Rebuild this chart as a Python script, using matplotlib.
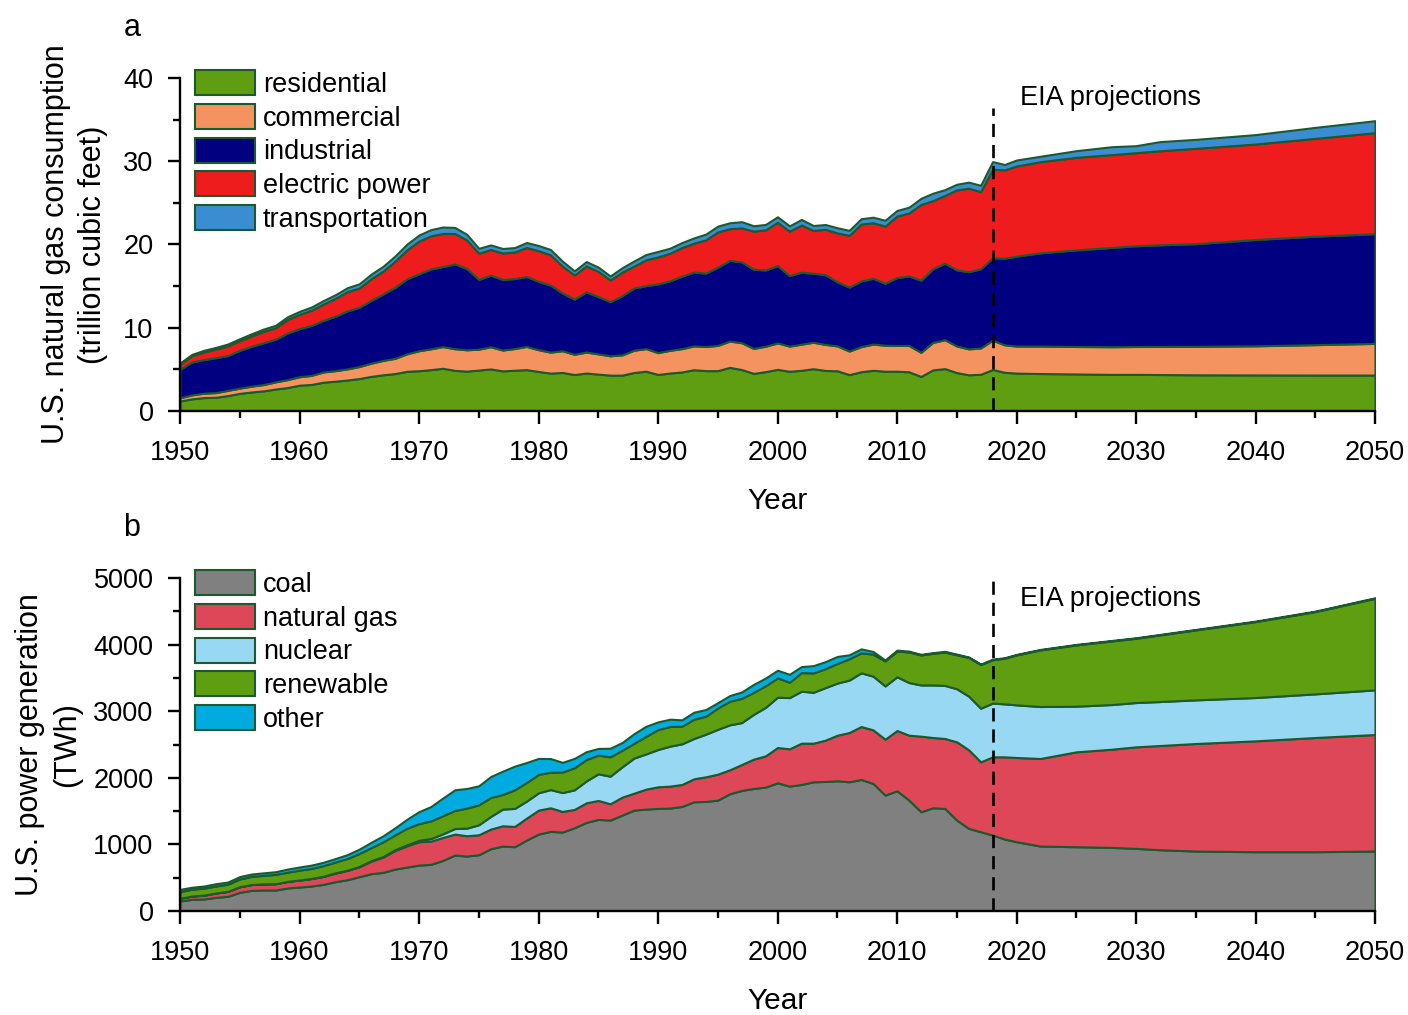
import matplotlib
matplotlib.use("Agg")
import matplotlib.pyplot as plt
from matplotlib.ticker import MultipleLocator

plt.rcParams['font.family'] = ['Liberation Sans', 'DejaVu Sans']

# ---------------- data ----------------
hist_years = list(range(1950, 2019))
proj_years = [2019, 2020, 2022, 2025, 2028, 2030, 2032, 2035, 2040, 2045, 2050]
years = hist_years + proj_years

# (a) natural gas consumption by sector, trillion cubic feet
residential = [
    1.20, 1.46, 1.61, 1.65, 1.85, 2.12, 2.29, 2.42, 2.64, 2.82,
    3.10, 3.19, 3.46, 3.58, 3.72, 3.90, 4.16, 4.35, 4.50, 4.77,
    4.84, 4.97, 5.13, 4.88, 4.79, 4.92, 5.05, 4.82, 4.90, 4.97,
    4.75, 4.55, 4.63, 4.38, 4.56, 4.43, 4.31, 4.31, 4.63, 4.78,
    4.39, 4.56, 4.69, 4.96, 4.85, 4.85, 5.24, 4.98, 4.52, 4.73,
    5.00, 4.77, 4.89, 5.08, 4.87, 4.83, 4.37, 4.72, 4.89, 4.78,
    4.78, 4.71, 4.15, 4.94, 5.09, 4.61, 4.35, 4.41, 4.99,
    4.65, 4.55, 4.50, 4.45, 4.40, 4.40, 4.38, 4.35, 4.33, 4.32, 4.32]
commercial = [
    0.39, 0.48, 0.53, 0.56, 0.63, 0.63, 0.70, 0.76, 0.86, 0.95,
    1.02, 1.09, 1.23, 1.27, 1.34, 1.44, 1.59, 1.73, 1.83, 2.10,
    2.40, 2.50, 2.61, 2.60, 2.56, 2.51, 2.67, 2.50, 2.60, 2.79,
    2.61, 2.52, 2.61, 2.43, 2.52, 2.43, 2.32, 2.43, 2.67, 2.72,
    2.62, 2.73, 2.80, 2.86, 2.90, 3.03, 3.16, 3.22, 3.00, 3.05,
    3.18, 3.02, 3.14, 3.18, 3.13, 2.99, 2.83, 3.01, 3.15, 3.12,
    3.10, 3.16, 2.90, 3.30, 3.47, 3.20, 3.11, 3.16, 3.51,
    3.30, 3.25, 3.30, 3.30, 3.32, 3.35, 3.38, 3.42, 3.50, 3.65, 3.80]
industrial = [
    3.42, 3.95, 4.04, 4.19, 4.18, 4.54, 4.79, 5.02, 5.12, 5.60,
    5.77, 6.00, 6.20, 6.54, 6.96, 7.12, 7.54, 7.98, 8.53, 9.02,
    9.25, 9.59, 9.61, 10.18, 9.76, 8.37, 8.60, 8.47, 8.41, 8.39,
    8.21, 8.05, 6.93, 6.62, 7.23, 6.88, 6.50, 7.11, 7.48, 7.56,
    8.25, 8.35, 8.70, 8.87, 8.81, 9.39, 9.69, 9.72, 9.50, 9.16,
    9.28, 8.47, 8.64, 8.29, 8.37, 7.70, 7.68, 7.89, 7.90, 7.44,
    8.15, 8.35, 8.65, 8.84, 9.18, 9.14, 9.27, 9.51, 9.91,
    10.40, 10.80, 11.20, 11.60, 11.93, 12.10, 12.20, 12.33, 12.77, 13.03, 13.18]
electric_power = [
    0.63, 0.76, 0.92, 1.03, 1.17, 1.15, 1.24, 1.37, 1.38, 1.63,
    1.73, 1.83, 1.97, 2.14, 2.32, 2.32, 2.61, 2.75, 3.15, 3.49,
    3.93, 3.99, 3.98, 3.66, 3.44, 3.16, 3.08, 3.19, 3.19, 3.49,
    3.68, 3.64, 3.23, 2.91, 3.11, 3.04, 2.60, 2.84, 2.64, 3.11,
    3.25, 3.32, 3.45, 3.47, 4.00, 4.24, 3.81, 4.07, 4.59, 4.82,
    5.21, 5.34, 5.67, 5.14, 5.46, 5.87, 6.22, 6.84, 6.67, 6.87,
    7.39, 7.57, 9.11, 8.19, 8.15, 9.61, 10.03, 9.27, 10.63,
    10.61, 10.83, 10.95, 11.12, 11.15, 11.18, 11.30, 11.45, 11.47, 11.75, 12.13]
transportation = [
    0.13, 0.16, 0.19, 0.21, 0.22, 0.25, 0.27, 0.28, 0.30, 0.32,
    0.35, 0.38, 0.41, 0.44, 0.47, 0.50, 0.55, 0.58, 0.62, 0.68,
    0.72, 0.74, 0.77, 0.73, 0.67, 0.58, 0.55, 0.54, 0.53, 0.60,
    0.63, 0.64, 0.60, 0.49, 0.53, 0.50, 0.49, 0.52, 0.61, 0.63,
    0.66, 0.60, 0.59, 0.63, 0.69, 0.70, 0.71, 0.75, 0.64, 0.65,
    0.66, 0.64, 0.67, 0.59, 0.57, 0.62, 0.60, 0.64, 0.67, 0.70,
    0.67, 0.69, 0.73, 0.89, 0.70, 0.68, 0.73, 0.76, 0.92,
    0.65, 0.72, 0.65, 0.80, 0.95, 0.84, 1.10, 1.08, 1.13, 1.32, 1.44]
gas_labels = ['residential', 'commercial', 'industrial', 'electric power', 'transportation']

# (b) power generation by source, TWh
coal = [
    150, 175, 180, 205, 220, 280, 310, 315, 315, 345,
    360, 375, 400, 440, 470, 515, 560, 580, 630, 660,
    690, 700, 760, 840, 825, 845, 935, 975, 965, 1065,
    1155, 1195, 1185, 1250, 1330, 1375, 1365, 1440, 1515, 1530,
    1540, 1545, 1570, 1640, 1645, 1665, 1760, 1810, 1840, 1860,
    1925, 1875, 1900, 1940, 1945, 1955, 1940, 1975, 1915, 1740,
    1805, 1665, 1490, 1550, 1540, 1365, 1240, 1190, 1140,
    1080, 1040, 975, 965, 955, 940, 920, 900, 890, 890, 900]
natural_gas = [
    40, 50, 58, 65, 75, 85, 88, 92, 95, 100,
    105, 112, 120, 130, 140, 150, 190, 230, 280, 320,
    350, 350, 345, 315, 305, 300, 295, 305, 305, 330,
    360, 355, 310, 275, 295, 285, 245, 270, 255, 300,
    325, 330, 330, 345, 370, 390, 360, 390, 440, 470,
    530, 560, 620, 580, 620, 685, 740, 795, 805, 840,
    905, 975, 1135, 1055, 1050, 1175, 1180, 1050, 1175,
    1235, 1265, 1315, 1425, 1475, 1525, 1565, 1615, 1665, 1715, 1750]
nuclear = [
    0, 0, 0, 0, 0, 0, 0, 0, 0, 0,
    1, 2, 2, 3, 3, 4, 6, 8, 12, 14,
    22, 38, 54, 83, 114, 150, 190, 250, 270, 255,
    260, 273, 283, 294, 328, 400, 414, 455, 527, 529,
    560, 600, 610, 605, 640, 673, 675, 629, 673, 728,
    755, 769, 780, 764, 789, 782, 787, 806, 806, 799,
    807, 790, 769, 789, 797, 797, 806, 805, 807,
    795, 790, 780, 685, 670, 665, 660, 655, 650, 655, 670]
renewable = [
    100, 102, 105, 105, 107, 115, 122, 128, 140, 138,
    147, 150, 160, 163, 175, 195, 196, 222, 223, 250,
    250, 266, 273, 272, 301, 300, 284, 220, 280, 280,
    276, 261, 309, 332, 321, 281, 290, 250, 222, 265,
    300, 295, 265, 290, 270, 320, 355, 365, 330, 325,
    290, 230, 280, 290, 285, 295, 320, 300, 330, 375,
    385, 460, 450, 475, 500, 510, 580, 655, 650,
    685, 750, 850, 920, 955, 965, 1000, 1050, 1140, 1235, 1375]
other = [
    35, 30, 32, 35, 33, 37, 36, 38, 40, 46,
    48, 50, 50, 52, 58, 65, 80, 90, 105, 135,
    180, 215, 265, 310, 295, 285, 315, 350, 355, 300,
    240, 205, 145, 140, 118, 100, 130, 115, 145, 150,
    115, 110, 95, 105, 100, 80, 85, 95, 120, 115,
    115, 120, 90, 110, 105, 105, 60, 60, 40, 15,
    15, 12, 10, 10, 12, 10, 8, 8, 10,
    8, 8, 8, 8, 8, 8, 8, 8, 8, 8, 8]
power_labels = ['coal', 'natural gas', 'nuclear', 'renewable', 'other']

projection_start = 2018

# ---------------- style ----------------
EDGE = '#1b5a2e'
gas_colors = ['#5e9e10', '#f4935f', '#000080', '#ee1c1c', '#3a8dd0']
power_colors = ['#808080', '#dd4758', '#99d8f3', '#5e9e10', '#00acdf']

W, H = 1408, 1015
fig = plt.figure(figsize=(W / 100, H / 100), dpi=100)

def px_axes(left, top, right, bottom):
    return fig.add_axes([left / W, 1 - bottom / H, (right - left) / W, (bottom - top) / H])

ax_a = px_axes(180, 78, 1375, 411)
ax_b = px_axes(180, 578, 1375, 911)


def style_axes(ax, ymax, ymajor, yminor):
    ax.set_xlim(1950, 2050)
    ax.set_ylim(0, ymax)
    ax.xaxis.set_major_locator(MultipleLocator(10))
    ax.xaxis.set_minor_locator(MultipleLocator(5))
    ax.yaxis.set_major_locator(MultipleLocator(ymajor))
    ax.yaxis.set_minor_locator(MultipleLocator(yminor))
    for side in ('top', 'right'):
        ax.spines[side].set_visible(False)
    for side in ('left', 'bottom'):
        ax.spines[side].set_linewidth(1.7)
    ax.tick_params(which='major', direction='out', length=9, width=1.7,
                   labelsize=19.5)
    ax.tick_params(which='minor', direction='out', length=5, width=1.7)
    ax.tick_params(axis='x', which='major', pad=12)
    ax.tick_params(axis='y', which='major', pad=10)
    ax.set_xlabel('Year', fontsize=21.5)
    ax.xaxis.set_label_coords(0.5, -0.228)


def draw_stack(ax, series, colors, labels):
    polys = ax.stackplot(years, *series, colors=colors, edgecolor=EDGE,
                         linewidth=1.5, zorder=2)
    ax.legend(polys, labels, loc='upper left', bbox_to_anchor=(0.0126, 1.024),
              frameon=False, fontsize=19.5, handlelength=2.2, handleheight=1.05,
              labelspacing=0.22, handletextpad=0.3, borderpad=0, borderaxespad=0)


# panel a
draw_stack(ax_a, [residential, commercial, industrial, electric_power, transportation],
           gas_colors, gas_labels)
style_axes(ax_a, 40, 10, 5)
ax_a.set_ylabel('U.S. natural gas consumption\n(trillion cubic feet)', fontsize=22,
                linespacing=1.3)
ax_a.yaxis.set_label_coords(-0.06, 0.5)
ax_a.axvline(projection_start, ymin=0, ymax=0.91, color='black', lw=1.9,
             dashes=(5, 3), zorder=3)
ax_a.text(2020.3, 37.6, 'EIA projections', fontsize=19.5, va='center', ha='left')

# panel b
draw_stack(ax_b, [coal, natural_gas, nuclear, renewable, other],
           power_colors, power_labels)
style_axes(ax_b, 5000, 1000, 500)
ax_b.set_ylabel('U.S. power generation\n(TWh)', fontsize=22, linespacing=1.3)
ax_b.yaxis.set_label_coords(-0.082, 0.5)
ax_b.axvline(projection_start, ymin=0, ymax=0.995, color='black', lw=1.9,
             dashes=(5, 3), zorder=3)
ax_b.text(2020.3, 4680, 'EIA projections', fontsize=19.5, va='center', ha='left')

fig.text(132 / W, 1 - 28 / H, 'a', fontsize=22, ha='center', va='center')
fig.text(132 / W, 1 - 528 / H, 'b', fontsize=22, ha='center', va='center')

fig.savefig('out.png', dpi=100)
